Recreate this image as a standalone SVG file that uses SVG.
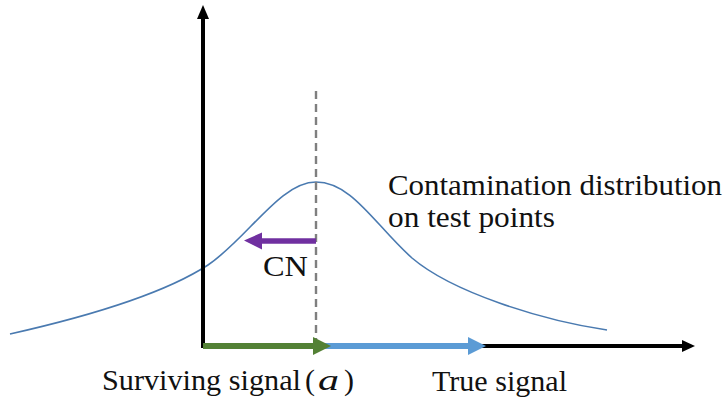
<svg xmlns="http://www.w3.org/2000/svg" width="727" height="403" viewBox="0 0 727 403">
<style>
.ax{stroke:#000;stroke-width:4;fill:none}
</style>
<rect width="727" height="403" fill="#fff"/>
<g id="curve">
<path d="M10,334 C90,316 165,293 208,265 C248,238 280,182 316,182 C352,182 375,225 412,258 C452,292 540,320 607,330" fill="none" stroke="#4a7ab0" stroke-width="1.6"/>
</g>
<g id="dashed">
<line x1="316" y1="91" x2="316" y2="345" stroke="#7f7f7f" stroke-width="2.4" stroke-dasharray="8,5"/>
</g>
<g id="connectors">
<line class="ax" x1="203" y1="348" x2="203" y2="16"/>
<polygon points="203,5 197,19 209,19" fill="#000"/>
<line class="ax" x1="201" y1="346" x2="685" y2="346"/>
<polygon points="695,346 682,340 682,352" fill="#000"/>
<line x1="313" y1="346" x2="470" y2="346" stroke="#5b9bd5" stroke-width="6"/>
<polygon points="486,346 468,337 468,355" fill="#5b9bd5"/>
<line x1="203" y1="346" x2="315" y2="346" stroke="#538135" stroke-width="6"/>
<polygon points="331,346 313,337 313,355" fill="#538135"/>
<line x1="316" y1="241" x2="260" y2="241" stroke="#7030a0" stroke-width="5.5"/>
<polygon points="244,240.5 262,232.5 262,249.5" fill="#7030a0"/>
</g>
<g id="labels" font-family="'Liberation Serif', 'DejaVu Serif', serif" font-size="30" fill="#111">
<text x="263" y="276" textLength="45" lengthAdjust="spacingAndGlyphs">CN</text>
<text x="388" y="195" textLength="334" lengthAdjust="spacingAndGlyphs">Contamination distribution</text>
<text x="388" y="227" textLength="167" lengthAdjust="spacingAndGlyphs">on test points</text>
<text x="102" y="390" textLength="199" lengthAdjust="spacingAndGlyphs">Surviving signal</text>
<text x="305" y="390">(</text>
<text x="318" y="390" font-style="italic" textLength="21" lengthAdjust="spacingAndGlyphs">a</text>
<text x="344" y="390">)</text>
<text x="432" y="391" textLength="135" lengthAdjust="spacingAndGlyphs">True signal</text>
</g>
</svg>
